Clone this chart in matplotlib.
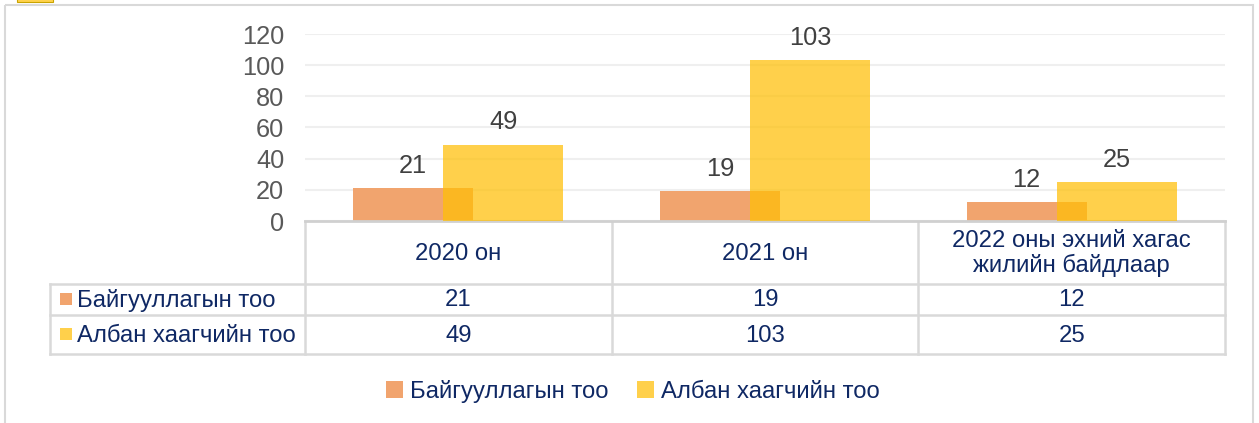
import matplotlib.pyplot as plt
from matplotlib.patches import Rectangle

plt.rcParams['font.family'] = ['Liberation Sans', 'DejaVu Sans']

# data
categories = ['2020 он', '2021 он', '2022 оны эхний хагас\nжилийн байдлаар']
series_names = ['Байгууллагын тоо', 'Албан хаагчийн тоо']
org_counts = [21, 19, 12]
staff_counts = [49, 103, 25]
y_ticks = [0, 20, 40, 60, 80, 100, 120]

W, H = 1259, 423
ORANGE = '#F1A46E'
YELLOW = '#FFBF05'
YELLOW_ALPHA = 0.72
NAVY = '#0f2864'
GRID = '#d9d9d9'

# pixel layout
AX_L, AX_R, AX_T, AX_B = 305, 1225, 34, 221
ROWS = [221, 284, 315, 354]
LABEL_L = 50


def fx(px):
    return px / W


def fy(py):
    return 1 - py / H


fig = plt.figure(figsize=(W / 100, H / 100), dpi=100)

# background frame / table overlay in pixel coords
over = fig.add_axes([0, 0, 1, 1], zorder=0)
over.set_xlim(0, W)
over.set_ylim(H, 0)
over.axis('off')
over.add_patch(Rectangle((5, 5), 1248, 430, fill=False, ec=GRID, lw=1.5))
over.add_patch(Rectangle((17, -5), 36, 7, fc='#FFD24D', ec='#c9a400', lw=0.8))

ax = fig.add_axes([fx(AX_L), fy(AX_B), fx(AX_R) - fx(AX_L), fy(AX_T) - fy(AX_B)], zorder=1)
ax.patch.set_alpha(0)
x = range(len(categories))
off, bw = 0.147, 0.391
b1 = ax.bar([i - off for i in x], org_counts, bw, color=ORANGE, zorder=2, label=series_names[0])
b2 = ax.bar([i + off for i in x], staff_counts, bw, color=YELLOW, alpha=YELLOW_ALPHA, zorder=3,
            label=series_names[1])
for bars, vals in ((b1, org_counts), (b2, staff_counts)):
    for r, v in zip(bars, vals):
        ax.annotate(str(v), (r.get_x() + r.get_width() / 2, v), xytext=(0, 11),
                    textcoords='offset points', ha='center', va='baseline',
                    fontsize=18.3, color='#404040')
ax.set_xlim(-0.5, len(categories) - 0.5)
ax.set_ylim(0, 120)
ax.set_yticks(y_ticks)
ax.tick_params(axis='y', length=0, pad=15, labelsize=18.3, labelcolor='#595959')
ax.set_xticks([])
ax.grid(axis='y', color='#efefef', lw=1.5, zorder=0)
for s in ('top', 'right', 'left'):
    ax.spines[s].set_visible(False)
ax.spines['bottom'].set_color('#d0d0d0')
ax.spines['bottom'].set_linewidth(2)

# table
n = len(categories)
colw = (AX_R - AX_L) / n
col_edges = [AX_L + i * colw for i in range(n + 1)]
lw = 1.8
for y in ROWS[1:]:
    over.plot([LABEL_L, AX_R], [y, y], color=GRID, lw=lw)
for xe in col_edges:
    over.plot([xe, xe], [ROWS[0], ROWS[-1]], color=GRID, lw=lw)
over.plot([LABEL_L, LABEL_L], [ROWS[1], ROWS[-1]], color=GRID, lw=lw)

FS = 17.2
for i, c in enumerate(categories):
    over.text(col_edges[i] + colw / 2, (ROWS[0] + ROWS[1]) / 2 + 1, c, ha='center', va='center',
              fontsize=FS, color=NAVY, linespacing=1.05)

table_rows = [(series_names[0], org_counts, ORANGE, 1.0),
              (series_names[1], staff_counts, YELLOW, YELLOW_ALPHA)]
for r, (name, vals, col, a) in enumerate(table_rows):
    yc = (ROWS[r + 1] + ROWS[r + 2]) / 2
    over.add_patch(Rectangle((60, yc - 6), 12, 12, fc=col, alpha=a, ec='none'))
    over.text(77, yc + 1, name, ha='left', va='center', fontsize=FS, color=NAVY)
    for i, v in enumerate(vals):
        over.text(col_edges[i] + colw / 2, yc + 1, str(v), ha='center', va='center',
                  fontsize=FS, color=NAVY)

leg = fig.legend(handles=[b1, b2], loc='center', bbox_to_anchor=(fx(633), fy(391)), ncol=2,
                 frameon=False, fontsize=FS, handlelength=0.7, handleheight=0.7,
                 handletextpad=0.3, columnspacing=1.2)
for t in leg.get_texts():
    t.set_color(NAVY)

fig.savefig('out.png', dpi=100)
